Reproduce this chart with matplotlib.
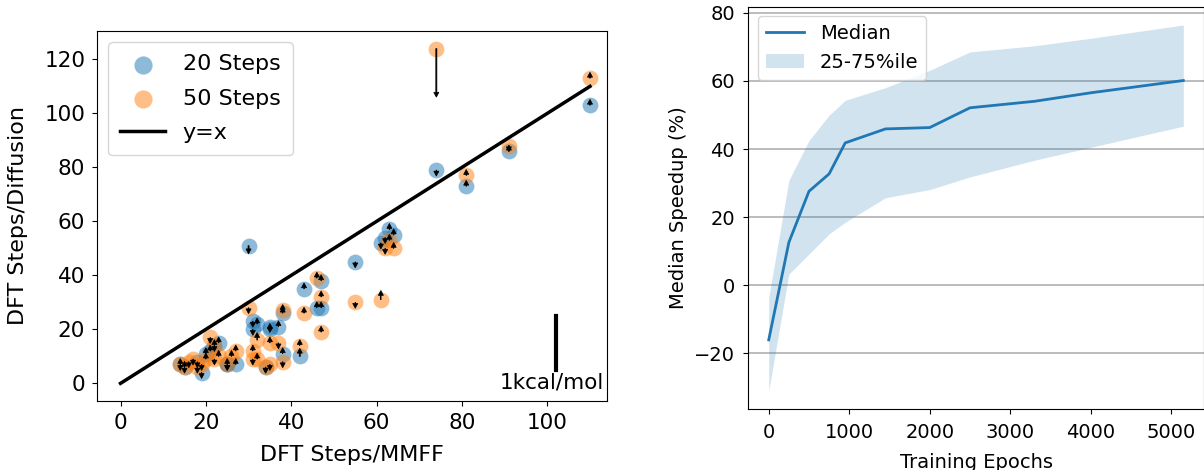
import matplotlib.pyplot as plt

# left panel: DFT steps, 20 diffusion steps
x20 = [110, 91, 81, 74, 64, 63, 62, 61, 55, 47, 47, 46, 43, 42, 38, 38, 37, 35, 35,
       34, 32, 31, 31, 30, 27, 25, 25, 23, 22, 21, 20, 19, 18, 15, 14]
y20 = [103, 86, 73, 79, 55, 57, 54, 52, 45, 38, 28, 28, 35, 10, 26, 11, 21, 20, 21,
       6, 22, 23, 20, 51, 7, 7, 7, 15, 14, 12, 11, 4, 8, 6, 7]
dE20 = [0.02, 0.02, 0.02, -0.02, 0.02, 0.02, -0.02, -0.02, -0.02, 0.02, 0.02, 0.02, 0.02, 0.15,
        0.02, 0.02, 0.02, 0.02, -0.02, -0.02, 0.02, -0.02, -0.02, -0.15, 0.02, 0.02, -0.02,
        0.02, 0.02, 0.02, 0.02, -0.02, -0.02, -0.02, 0.02]

# 50 diffusion steps
x50 = [110, 91, 81, 74, 64, 63, 62, 61, 55, 47, 47, 46, 43, 42, 38, 38, 37, 35, 35,
       34, 32, 31, 31, 32, 30, 27, 26, 25, 23, 22, 21, 22, 20, 19, 18, 17, 16, 15, 14]
y50 = [113, 88, 77, 124, 50, 53, 50, 31, 30, 32, 19, 39, 26, 14, 27, 8, 15, 15, 7,
       6, 16, 12, 9, 9, 28, 12, 10, 7, 10, 9, 17, 14, 9, 7, 6, 9, 8, 6, 7]
dE50 = [0.02, -0.02, 0.02, -0.9, 0.02, 0.02, -0.02, 0.08, -0.02, 0.02, 0.02, 0.02, 0.02, 0.02,
        0.02, -0.02, -0.02, 0.02, -0.02, -0.02, 0.05, 0.02, -0.02, 0.02, -0.02, 0.02, 0.02,
        -0.02, 0.02, -0.02, -0.02, -0.02, 0.02, -0.02, -0.02, -0.02, -0.02, 0.02, -0.02]

kcal_scale = 20  # data units per kcal/mol

# right panel: speedup vs training epochs
epochs = [0, 250, 500, 750, 950, 1450, 2000, 2500, 3300, 4000, 5150]
median = [-16, 12.6, 27.6, 32.7, 41.8, 45.9, 46.3, 52.1, 54.0, 56.5, 60.1]
q25 = [-31, 3.3, 9.2, 15.1, 18.5, 25.7, 28.1, 31.8, 36.7, 40.5, 46.7]
q75 = [-3.5, 30.8, 42.5, 49.9, 54.3, 58.0, 63.1, 68.5, 70.3, 72.5, 76.4]

fig = plt.figure(figsize=(12.04, 4.70), dpi=100)

ax1 = fig.add_axes([0.0806, 0.147, 0.4236, 0.787])
ax1.scatter(x20, y20, s=130, color='C0', alpha=0.5, linewidths=0, label='20 Steps')
ax1.scatter(x50, y50, s=130, color='C1', alpha=0.5, linewidths=0, label='50 Steps')
ax1.plot([0, 110], [0, 110], color='k', lw=2.5, label='y=x')


def draw_arrows(xs, ys, des):
    for x, y, de in zip(xs, ys, des):
        big = abs(de * kcal_scale) > 2
        ax1.arrow(x, y, 0, de * kcal_scale, width=0.25 if big else 0.1, head_width=1.2,
                  head_length=1.8, length_includes_head=big, fc='k', ec='k', lw=0.5)


draw_arrows(x20, y20, dE20)
draw_arrows(x50, y50, dE50)

# scale bar
ax1.plot([102, 102], [5, 5 + kcal_scale], color='k', lw=3)
ax1.text(101, 0.3, '1kcal/mol', ha='center', va='center', fontsize=15.5)

ax1.set_xlim(-5.5, 114)
ax1.set_ylim(-6.5, 130.5)
ax1.set_xticks([0, 20, 40, 60, 80, 100])
ax1.set_yticks([0, 20, 40, 60, 80, 100, 120])
ax1.tick_params(labelsize=15.5, pad=5)
ax1.set_xlabel('DFT Steps/MMFF', fontsize=16, labelpad=9)
ax1.set_ylabel('DFT Steps/Diffusion', fontsize=16, labelpad=12)
ax1.legend(loc='upper left', fontsize=16, labelspacing=0.65, markerscale=1.15,
           borderpad=0.55)

ax2 = fig.add_axes([0.6213, 0.129, 0.3787, 0.857])
ax2.plot(epochs, median, color='C0', lw=2, label='Median')
ax2.fill_between(epochs, q25, q75, color='C0', alpha=0.2, linewidth=0, label='25-75%ile')
ax2.grid(axis='y', color='#b0b0b0', lw=1.2)
ax2.set_axisbelow(True)
ax2.set_xlim(-257, 5407)
ax2.set_ylim(-36.4, 81.8)
ax2.set_xticks([0, 1000, 2000, 3000, 4000, 5000])
ax2.set_yticks([-20, 0, 20, 40, 60, 80])
ax2.tick_params(labelsize=14, pad=6)
ax2.set_xlabel('Training Epochs', fontsize=14, labelpad=8)
ax2.set_ylabel('Median Speedup (%)', fontsize=14)
ax2.legend(loc='upper left', fontsize=14)

fig.savefig('out.png', dpi=100)
